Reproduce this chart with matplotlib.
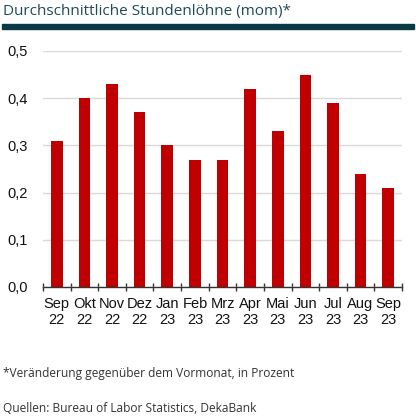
import numpy as np
import matplotlib
matplotlib.use("Agg")
import matplotlib.pyplot as plt
from matplotlib.ticker import FixedLocator, FuncFormatter

plt.rcParams["font.family"] = ["Liberation Sans", "DejaVu Sans"]

# data
months = ["Sep\n22", "Okt\n22", "Nov\n22", "Dez\n22", "Jan\n23", "Feb\n23", "Mrz\n23",
          "Apr\n23", "Mai\n23", "Jun\n23", "Jul\n23", "Aug\n23", "Sep\n23"]
values = [0.31, 0.40, 0.43, 0.37, 0.30, 0.27, 0.27, 0.42, 0.33, 0.45, 0.39, 0.24, 0.21]

fig = plt.figure(figsize=(4.16, 4.18), dpi=100)
fig.patch.set_facecolor("white")

ax = fig.add_axes([43/416, 1 - 287/418, 359/416, 236/418])
x = np.arange(len(months))
ax.bar(x, values, width=0.42, color="#c00000", zorder=3)

ax.set_xlim(-0.5, len(months) - 0.5)
ax.set_ylim(0, 0.5)
ax.set_yticks([0, 0.1, 0.2, 0.3, 0.4, 0.5])
ax.yaxis.set_major_formatter(FuncFormatter(lambda v, p: f"{v:.1f}".replace(".", ",")))
ax.set_xticks(x)
ax.set_xticklabels(months, linespacing=1.25)
ax.xaxis.set_minor_locator(FixedLocator(np.arange(-0.5, len(months), 1)))

ax.grid(axis="y", color="#d9d9d9", linewidth=1.0, zorder=0)
for s in ["top", "right", "left"]:
    ax.spines[s].set_visible(False)
ax.spines["bottom"].set_color("#333333")
ax.spines["bottom"].set_linewidth(1.0)
ax.spines["bottom"].set_zorder(4)

ax.tick_params(axis="y", length=0, pad=11, labelsize=10.5, labelcolor="#111111")
ax.tick_params(axis="x", which="major", length=0, pad=7, labelsize=10.5, labelcolor="#111111")
ax.tick_params(axis="x", which="minor", length=6, direction="inout", color="#333333", width=1.0)

# header
fig.text(3/416, 1 - 12/418, "Durchschnittliche Stundenlöhne (mom)*", fontsize=11,
         family="Open Sans", color="#1e4a58", va="center", ha="left")
fig.add_artist(plt.Rectangle((2/416, 1 - 29/418), 412/416, 5/418,
                             transform=fig.transFigure, color="#0b3a47"))

# footnotes
fig.text(3/416, 1 - 373/418, "*Veränderung gegenüber dem Vormonat, in Prozent", fontsize=8.6,
         family="Open Sans", color="#333333", va="center", ha="left")
fig.text(3/416, 1 - 409/418, "Quellen: Bureau of Labor Statistics, DekaBank", fontsize=8.6,
         family="Open Sans", color="#333333", va="center", ha="left")

fig.savefig("out.png", dpi=100)
